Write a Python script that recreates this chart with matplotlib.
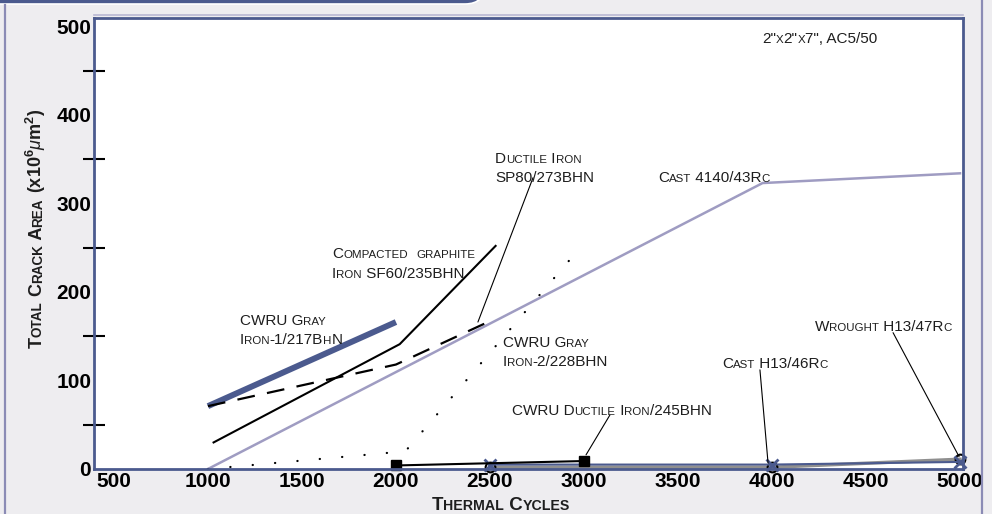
import re
import math
import matplotlib
matplotlib.use('Agg')
import matplotlib.pyplot as plt
import matplotlib.transforms as mtransforms
from matplotlib.font_manager import FontProperties
from matplotlib.patches import FancyBboxPatch
from matplotlib.lines import Line2D

plt.rcParams['font.family'] = ['Liberation Sans', 'DejaVu Sans']
plt.rcParams['mathtext.fontset'] = 'custom'
plt.rcParams['mathtext.rm'] = 'Liberation Sans'
plt.rcParams['mathtext.it'] = 'Liberation Sans:italic'
plt.rcParams['mathtext.bf'] = 'Liberation Sans:bold'

# data
cast4140_x = [1000, 3950, 5000]
cast4140_y = [0, 323, 334]
cgi_x = [1030, 2020, 2530]          # compacted graphite iron SF60
cgi_y = [30, 141, 252]
sp80_x = [1000, 2000, 2510]         # ductile iron SP80
sp80_y = [71, 118, 168]
gray1_x = [1000, 2000]              # CWRU gray iron-1
gray1_y = [71, 166]
gray2_x = [1000, 2050, 2980]        # CWRU gray iron-2
gray2_y = [0, 20, 250]
cwru_di_x = [2000, 3000]            # CWRU ductile iron
cwru_di_y = [4, 9]
h13_x = [2500, 4000, 5000]
cast_h13_y = [5, 5, 8]
wrought_h13_y = [2, 2, 11]

x_ticks = [500, 1000, 1500, 2000, 2500, 3000, 3500, 4000, 4500, 5000]
y_ticks = [0, 100, 200, 300, 400, 500]
y_marks = [50, 150, 250, 350, 450]

navy = '#4B5A8E'
lav = '#9f9cc2'
txt = '#1e1e1e'

fig = plt.figure(figsize=(9.92, 5.14), dpi=100)
fig.patch.set_facecolor('#EEEDF0')
ax = fig.add_axes([94 / 992, 45 / 514, 869 / 992, 451.5 / 514])
ax.set_xlim(394, 5016)
ax.set_ylim(0, 510)

# frame decorations
fig.patches.append(FancyBboxPatch((-0.3, 5.10), 5.15, 0.6, boxstyle='round,pad=0,rounding_size=0.2',
                                  transform=fig.dpi_scale_trans, fc=navy, ec='white', lw=1.2))
fig.lines.append(Line2D([0.05, 0.05], [0, 5.09], transform=fig.dpi_scale_trans, color='#8b8bb5', lw=1.6))
fig.lines.append(Line2D([9.82, 9.82], [0, 5.14], transform=fig.dpi_scale_trans, color='#8b8bb5', lw=1.6))
fig.lines.append(Line2D([0.94, 9.63], [4.985, 4.985], transform=fig.dpi_scale_trans, color='#b9b8d2', lw=1.2))

for sp in ax.spines.values():
    sp.set_color(navy)
    sp.set_linewidth(2)

# series
ax.plot(cast4140_x, cast4140_y, color=lav, lw=1.8, clip_on=False)
ax.plot(gray1_x, gray1_y, color=navy, lw=4.3, solid_capstyle='butt')
ax.plot(cgi_x, cgi_y, color='black', lw=1.5)
ax.plot(sp80_x, sp80_y, color='black', lw=1.6, dashes=(8, 5.6))
ax.plot(gray2_x, gray2_y, color='black', lw=1.6, dashes=(0.1, 10), dash_capstyle='round')
ax.plot(h13_x, wrought_h13_y, color='#8f8f8f', lw=2.5, marker='o', ms=7, mfc='none',
        mec='black', mew=1.5, clip_on=False)
ax.plot(h13_x, cast_h13_y, color=navy, lw=1.5, marker='x', ms=8, mec=navy, mew=2, clip_on=False)
ax.plot(cwru_di_x, cwru_di_y, color='black', lw=1.5, marker='s', ms=6.5, clip_on=False)

# ticks
ax.set_xticks(x_ticks)
ax.set_yticks(y_ticks)
ax.set_yticks(y_marks, minor=True)
ax.tick_params(axis='both', which='major', length=0, labelsize=15, pad=2)
ax.tick_params(axis='y', which='minor', length=16.5, width=1.5, direction='inout', color='black')
for lab in ax.get_xticklabels() + ax.get_yticklabels():
    lab.set_fontweight('bold')

renderer = fig.canvas.get_renderer()


def runs_of(s):
    out = []
    for part in re.split(r'(\$[^$]*\$)', s):
        if not part:
            continue
        if part.startswith('$'):
            out.append((part, None))
            continue
        for ch in part:
            small = ch.islower()
            if out and out[-1][1] == small:
                out[-1] = (out[-1][0] + ch, small)
            else:
                out.append((ch, small))
    return out


def sc_text(x, y, s, size, transform, weight='normal', rotation=0, color=txt):
    # small caps: lowercase letters are drawn as smaller capitals
    d = 0.0
    c, sn = math.cos(math.radians(rotation)), math.sin(math.radians(rotation))
    for piece, small in runs_of(s):
        fs = size * 0.75 if small else size
        shown = piece.upper() if small else piece
        prop = FontProperties(family=['Liberation Sans', 'DejaVu Sans'], size=fs, weight=weight)
        if small is None:
            w = renderer.get_text_width_height_descent(shown, prop, ismath=True)[0]
        else:
            w = (renderer.get_text_width_height_descent('|' + shown + '|', prop, ismath=False)[0]
                 - renderer.get_text_width_height_descent('||', prop, ismath=False)[0])
        tr = transform + mtransforms.Affine2D().translate(d * c, d * sn)
        fig.text(x, y, shown, fontproperties=prop, transform=tr, ha='left', va='baseline',
                 rotation=rotation, rotation_mode='anchor', color=color)
        d += w


def label(x, y, lines, gap=19.5, size=11):
    for i, line in enumerate(lines):
        tr = ax.transData + mtransforms.Affine2D().translate(0, -gap * i)
        sc_text(x, y, line, size, tr)


def leader(start, end):
    ax.annotate('', xy=end, xytext=start,
                arrowprops=dict(arrowstyle='-', lw=0.8, color='black', shrinkA=0, shrinkB=0))


label(3947, 481, ['2"x2"x7", AC5/50'])
label(2527, 346, ['Ductile Iron', 'SP80/273BHN'])
label(1660, 238, ['Compacted  graphite', 'Iron SF60/235BHN'])
label(1170, 163, ['CWRU Gray', 'Iron-1/217BhN'])
label(2569, 138, ['CWRU Gray', 'Iron-2/228BHN'])
label(2617, 61, ['CWRU Ductile Iron/245BHN'])
label(3394, 324, ['Cast 4140/43Rc'])
label(3734, 114, ['Cast H13/46Rc'])
label(4229, 156, ['Wrought H13/47Rc'])

leader((2729, 329), (2436, 166))
leader((3138, 61), (3011, 16))
leader((3936, 112), (3979, 7))
leader((4644, 154), (4995, 14))

# axis titles
sc_text(0.42, 1.66, r'Total Crack Area $\mathbf{(x10^{6}}\mu\mathbf{m^{2})}$', 13,
        fig.dpi_scale_trans, weight='bold', rotation=90)
sc_text(4.32, 0.04, 'Thermal Cycles', 13.5, fig.dpi_scale_trans, weight='bold')

fig.savefig('out.png', dpi=100, facecolor=fig.get_facecolor())
